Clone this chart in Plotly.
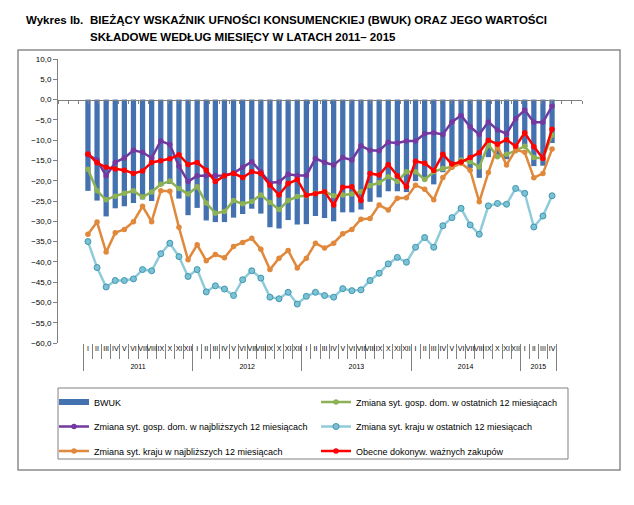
import plotly.graph_objects as go

roman = ["I", "II", "III", "IV", "V", "VI", "VII", "VIII", "IX", "X", "XI", "XII"]
months = roman * 4 + roman[:4]
years = ["2011"] * 12 + ["2012"] * 12 + ["2013"] * 12 + ["2014"] * 12 + ["2015"] * 4

bwuk = [-22.5, -24.9, -28.8, -26.8, -26.3, -25.5, -24.6, -25.0, -21.3, -20.8, -24.4, -28.5,
        -26.7, -29.8, -30.2, -30.2, -29.1, -28.2, -26.9, -28.1, -31.5, -31.8, -29.7, -30.8,
        -30.7, -28.7, -29.2, -30.0, -27.8, -27.8, -27.1, -25.2, -24.1, -22.6, -22.6, -22.8,
        -20.1, -20.0, -20.9, -17.9, -16.8, -15.3, -16.9, -19.3, -14.2, -14.0, -14.7, -12.6,
        -11.7, -16.4, -16.3, -10.7]
gosp_ost = [-17.2, -22.5, -24.7, -23.8, -23.1, -22.5, -24.0, -22.8, -20.9, -20.1, -21.9, -23.3,
            -21.5, -25.5, -28.0, -27.6, -24.9, -25.7, -25.1, -23.5, -25.4, -27.1, -24.9, -23.9,
            -23.7, -23.1, -22.7, -23.7, -23.5, -23.3, -22.7, -21.2, -20.5, -19.0, -20.2, -17.8,
            -17.8, -19.7, -17.8, -17.0, -16.6, -14.9, -15.3, -16.6, -11.1, -14.1, -13.5, -12.6,
            -11.5, -14.3, -14.5, -8.8]
gosp_najbl = [-13.6, -14.9, -18.8, -15.5, -14.4, -12.5, -13.0, -14.4, -10.2, -11.1, -16.4, -20.2,
              -18.8, -18.8, -18.7, -18.7, -18.1, -16.7, -15.3, -17.8, -20.5, -20.3, -18.4, -18.7,
              -18.7, -14.5, -15.5, -16.1, -14.3, -14.9, -11.4, -12.5, -12.6, -10.5, -10.7, -10.2,
              -10.2, -8.4, -8.2, -8.6, -5.5, -3.9, -6.7, -8.6, -5.5, -7.5, -8.4, -4.7,
              -2.6, -5.6, -5.6, -1.6]
kraj_ost = [-35.0, -41.4, -46.2, -44.6, -44.6, -44.2, -41.9, -42.2, -38.0, -35.4, -38.7, -43.6,
            -41.9, -47.4, -45.9, -46.7, -48.3, -44.4, -42.2, -44.0, -48.7, -49.1, -47.5, -50.4,
            -48.5, -47.5, -48.3, -48.7, -46.6, -47.1, -46.9, -44.6, -42.8, -40.5, -38.9, -40.1,
            -36.4, -34.0, -36.4, -31.1, -29.1, -26.8, -30.9, -33.2, -26.2, -25.6, -25.8, -21.9,
            -23.1, -31.4, -28.7, -23.7]
kraj_najbl = [-33.2, -30.2, -37.6, -32.8, -32.0, -30.1, -26.3, -30.1, -22.5, -22.6, -31.5, -39.5,
              -35.8, -39.7, -38.2, -39.0, -36.2, -35.2, -34.2, -36.9, -41.9, -39.1, -37.2, -41.5,
              -39.1, -35.4, -36.6, -35.4, -33.1, -32.0, -29.5, -29.3, -26.0, -27.2, -24.3, -24.2,
              -21.1, -22.1, -24.7, -19.2, -16.7, -15.7, -17.4, -25.2, -18.0, -11.6, -16.1, -12.4,
              -13.0, -19.3, -18.2, -12.2]
zakupy = [-13.4, -15.6, -16.7, -17.1, -17.4, -18.2, -17.6, -15.5, -15.1, -14.6, -13.6, -16.0,
          -15.5, -17.4, -20.2, -18.8, -18.2, -19.2, -17.8, -18.2, -21.1, -23.5, -20.7, -19.7,
          -23.6, -23.2, -22.7, -26.0, -21.6, -21.5, -24.9, -18.2, -18.6, -16.0, -18.8, -21.5,
          -15.2, -15.7, -17.5, -13.5, -15.9, -15.4, -14.3, -13.1, -10.0, -11.0, -9.9, -11.5,
          -8.2, -11.6, -14.5, -7.3]

FONT = "Liberation Sans, Arial, sans-serif"
# second-level labels pushed down one line, as in the reference
x = [["<br>" + y for y in years], months]

L, R, T, B = 58, 52, 59, 162
W, H = 634, 505
PW, PH = W - L - R, H - T - B


def px(xp):
    return (xp - L) / PW


def py(yp):
    return (H - B - yp) / PH


BLUE = "#4472B0"
fig = go.Figure()
fig.add_trace(go.Bar(x=x, y=bwuk, name="BWUK", marker=dict(color=BLUE, line=dict(width=0)),
                     width=0.58, showlegend=False))
# legend entry for the bars (wide flat swatch, as in the reference legend)
fig.add_trace(go.Scatter(x=[None], y=[None], xaxis="x2", name="BWUK", mode="lines",
                         line=dict(color=BLUE, width=6), legend="legend", hoverinfo="skip"))
fig.add_trace(go.Scatter(x=x, y=gosp_ost, name="Zmiana syt. gosp. dom. w ostatnich 12 miesiącach",
                         mode="lines+markers", line=dict(color="#8DB255", width=2.5),
                         marker=dict(size=5.5, color="#8DB255"), legend="legend"))
fig.add_trace(go.Scatter(x=x, y=gosp_najbl, name="Zmiana syt. gosp. dom. w najbliższych 12 miesiącach",
                         mode="lines+markers", line=dict(color="#7239A0", width=2.5),
                         marker=dict(size=5.5, color="#7239A0"), legend="legend2"))
fig.add_trace(go.Scatter(x=x, y=kraj_ost, name="Zmiana syt. kraju w ostatnich 12 miesiącach",
                         mode="lines+markers", line=dict(color="#8FCBDA", width=2.5),
                         marker=dict(size=6, color="#7DC2D4", line=dict(color="#3E97B0", width=1)),
                         legend="legend2"))
fig.add_trace(go.Scatter(x=x, y=kraj_najbl, name="Zmiana syt. kraju w najbliższych 12 miesiącach",
                         mode="lines+markers", line=dict(color="#E0883C", width=2.5),
                         marker=dict(size=5.5, color="#E0883C"), legend="legend3"))
fig.add_trace(go.Scatter(x=x, y=zakupy, name="Obecne dokonyw. ważnych zakupów",
                         mode="lines+markers", line=dict(color="#FF0000", width=2.5),
                         marker=dict(size=5.5, color="#FF0000"), legend="legend3"))

n = len(months)


def row_legend(yc):
    return dict(orientation="h", x=px(54), xanchor="left", y=py(yc), yanchor="middle",
                entrywidth=217, entrywidthmode="pixels", borderwidth=0, bgcolor="rgba(0,0,0,0)",
                font=dict(family=FONT, size=9, color="#000000"), traceorder="normal", itemwidth=30)


fig.update_layout(
    width=W, height=H, autosize=False,
    margin=dict(l=L, r=R, t=T, b=B, pad=0),
    paper_bgcolor="white", plot_bgcolor="white",
    separators=", ",
    font=dict(family=FONT, size=8, color="#000000"),
    showlegend=True,
    legend=row_legend(402),
    legend2=row_legend(426.5),
    legend3=row_legend(451),
    xaxis=dict(type="multicategory", showline=False, ticks="outside", ticklen=15,
               tickcolor="#808080", tickwidth=1, showdividers=True, dividercolor="#808080",
               dividerwidth=1, tickangle=0, automargin=False,
               tickfont=dict(size=7, family=FONT), showgrid=False, zeroline=False),
    xaxis2=dict(overlaying="x", anchor="free", position=60 / 70, range=[-0.5, n - 0.5],
                tickvals=[i - 0.5 for i in range(n + 1)], showticklabels=False, ticks="outside",
                ticklen=3, tickcolor="#808080", showline=True, linecolor="#808080", linewidth=1,
                showgrid=False, zeroline=False, automargin=False),
    yaxis=dict(range=[-60, 10], dtick=5, tickformat=".1f", showgrid=False, zeroline=False,
               showline=True, linecolor="#808080", linewidth=1, ticks="outside", ticklen=4,
               tickcolor="#808080", tickfont=dict(size=8, family=FONT), automargin=False),
)

TF = dict(family=FONT, size=11.5, color="#000000")
fig.add_annotation(text="<b>Wykres Ib.</b>", xref="paper", yref="paper", x=px(24), y=py(20),
                   xanchor="left", yanchor="middle", showarrow=False, font=TF)
fig.add_annotation(text="<b>BIEŻĄCY WSKAŹNIK UFNOŚCI KONSUMENCKIEJ (BWUK) ORAZ JEGO WARTOŚCI</b>",
                   xref="paper", yref="paper", x=px(88), y=py(20), xanchor="left", yanchor="middle",
                   showarrow=False, font=TF)
fig.add_annotation(text="<b>SKŁADOWE WEDŁUG MIESIĘCY W LATACH 2011– 2015</b>",
                   xref="paper", yref="paper", x=px(88), y=py(37), xanchor="left", yanchor="middle",
                   showarrow=False, font=TF)

# chart frame and legend frame
fig.add_shape(type="rect", xref="paper", yref="paper", x0=px(18), x1=px(620), y0=py(470), y1=py(50),
              line=dict(color="#8C8C8C", width=1.5), fillcolor="rgba(0,0,0,0)", layer="below")
fig.add_shape(type="rect", xref="paper", yref="paper", x0=px(58), x1=px(568), y0=py(459), y1=py(388),
              line=dict(color="#808080", width=1), fillcolor="rgba(0,0,0,0)", layer="below")

fig.write_html("out.html")
